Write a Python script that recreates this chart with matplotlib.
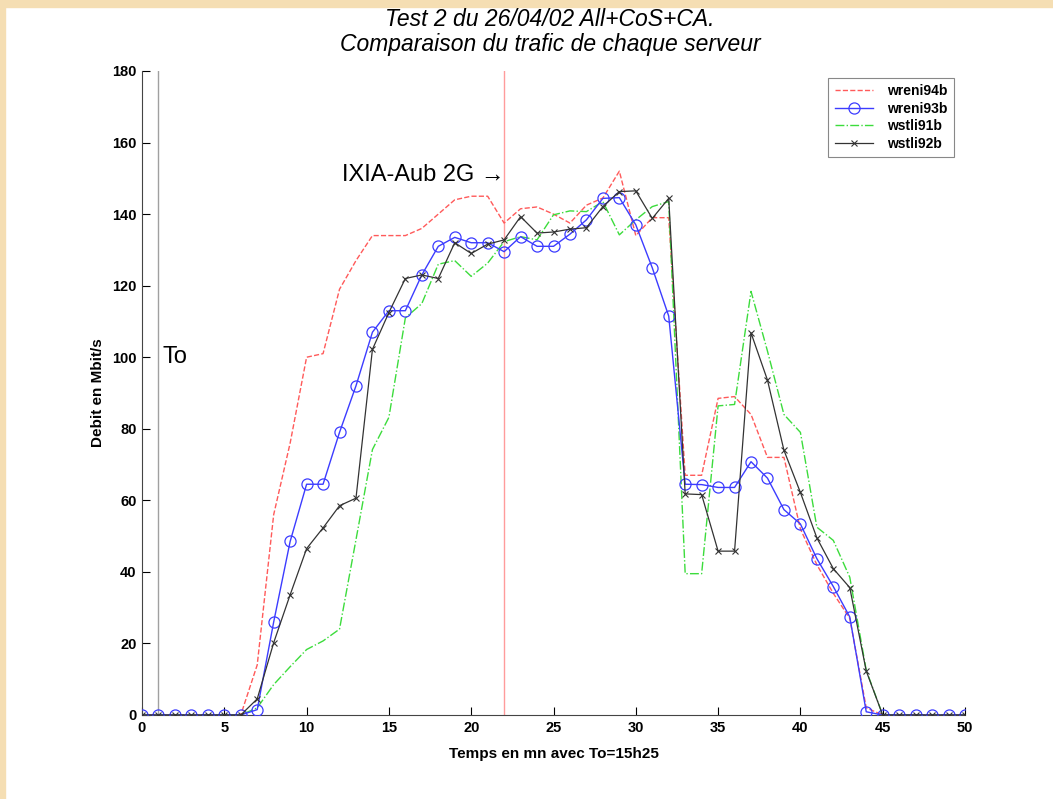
import numpy as np
import matplotlib
matplotlib.use('Agg')
import matplotlib.pyplot as plt
from matplotlib.patches import Rectangle

# -------------------------------------------------------------------------------------------------- #

# Data (one value per minute, t = 0..50)

temps = list(range(0, 51))

wreni94b = [0, 0, 0, 0, 0, 0, 0, 14, 56, 76, 100, 101, 119, 127, 134, 134, 134, 136, 140, 144,
            145, 145, 137.5, 141.5, 142, 140, 137.5, 142.5, 144.5, 152, 134, 139, 139, 67, 67, 88.5,
            89, 84, 72, 72, 52, 42, 34, 27, 2, 0, 0, 0, 0, 0, 0]

wreni93b = [0, 0, 0, 0, 0, 0, 0, 1.5, 26, 48.5, 64.5, 64.5, 79, 92, 107, 113, 113, 123, 131, 133.5,
            132, 132, 129.5, 133.7, 131, 131, 134.4, 138.4, 144.4, 144.6, 137, 125, 111.5, 64.5, 64.4, 63.6,
            63.6, 70.8, 66.2, 57.4, 53.4, 43.7, 35.9, 27.4, 0.9, 0, 0, 0, 0, 0, 0]

wstli91b = [0, 0, 0, 0, 0, 0, 0, 2, 8.5, 13.5, 18.3, 20.7, 24, 49, 74.2, 83.2, 111, 115, 126, 127,
            122.6, 126.3, 132.3, 133.7, 132.8, 139.8, 140.9, 140.7, 143.5, 134.2, 138.4, 142.1, 143.5, 39.5, 39.5, 86.4,
            86.8, 118.4, 101.7, 84, 79, 52.5, 48.8, 38.5, 12.5, 0, 0, 0, 0, 0, 0]

wstli92b = [0, 0, 0, 0, 0, 0, 0, 4.5, 20.2, 33.6, 46.5, 52.3, 58.5, 60.6, 102.2, 112.5, 122, 123, 122, 132,
            129, 131.6, 132.8, 139.3, 134.7, 135, 135.8, 136.2, 142.1, 146.3, 146.5, 138.8, 144.4, 61.8, 61.6, 45.8,
            45.8, 106.8, 93.6, 74, 62.2, 49.5, 40.9, 35.6, 12.3, 0, 0, 0, 0, 0, 0]

t_zero = 1      # To marker
t_ixia = 22     # IXIA-Aub 2G start

# -------------------------------------------------------------------------------------------------- #

plt.rcParams['font.family'] = ['Liberation Sans', 'DejaVu Sans']

fig = plt.figure(figsize=(10.53, 7.99), dpi=100)
fig.patch.set_facecolor('white')

# beige frame on top and left edges
fig.patches.append(Rectangle((0, 1 - 7/799), 1, 7/799, transform=fig.transFigure,
                             color='#f5deb3', zorder=0))
fig.patches.append(Rectangle((0, 0), 5/1053, 1, transform=fig.transFigure,
                             color='#f5deb3', zorder=0))

ax = fig.add_axes([142/1053, 84/799, 823/1053, 644/799])

ax.axvline(t_zero, color='#a0a0a0', lw=1.0, zorder=1)
ax.axvline(t_ixia, color='#ff9c9c', lw=1.0, zorder=1)

ax.plot(temps, wreni94b, linestyle='--', color='#ff5a5a', lw=1.0, label='wreni94b', zorder=2)
ax.plot(temps, wreni93b, linestyle='-', color='#3c3cff', lw=1.0, marker='o', markersize=8,
        markerfacecolor='none', markeredgewidth=0.9, label='wreni93b', zorder=3)
ax.plot(temps, wstli91b, linestyle='-.', color='#3cdc3c', lw=1.0, label='wstli91b', zorder=2)
ax.plot(temps, wstli92b, linestyle='-', color='#333333', lw=0.9, marker='x', markersize=5,
        markeredgewidth=0.8, label='wstli92b', zorder=4)

# annotations
ax.text(1.25, 100, 'To', fontsize=17, va='center', ha='left')
ax.text(22, 151, 'IXIA-Aub 2G \u2192', fontsize=17, va='center', ha='right')

ax.set_xlim(0, 50)
ax.set_ylim(0, 180)
ax.set_xticks(np.arange(0, 51, 5))
ax.set_yticks(np.arange(0, 181, 20))
ax.tick_params(direction='in', length=6, width=0.8, labelsize=10.5, pad=4)
for lab in ax.get_xticklabels() + ax.get_yticklabels():
    lab.set_fontweight('bold')
ax.spines['top'].set_visible(False)
ax.spines['right'].set_visible(False)
ax.spines['left'].set_color('#444444')
ax.spines['bottom'].set_color('#444444')

ax.set_xlabel('Temps en mn avec To=15h25', fontsize=11, fontweight='bold', labelpad=9)
ax.set_ylabel('Debit en Mbit/s', fontsize=11, fontweight='bold', labelpad=5)

# two-line italic title
fig.text(550/1053, 1 - 19/799, 'Test 2 du 26/04/02 All+CoS+CA.', fontsize=16.5, style='italic',
         ha='center', va='center')
fig.text(550/1053, 1 - 45/799, 'Comparaison du trafic de chaque serveur', fontsize=16.5, style='italic',
         ha='center', va='center')

leg = ax.legend(loc='upper right', bbox_to_anchor=(0.995, 1.0), fontsize=10, fancybox=False,
                framealpha=1, edgecolor='#888888', handlelength=2.8, borderpad=0.45,
                labelspacing=0.25, handletextpad=1.0)
leg.get_frame().set_linewidth(0.8)
for txt in leg.get_texts():
    txt.set_fontweight('bold')

fig.savefig('out.png', dpi=100, facecolor=fig.get_facecolor())
